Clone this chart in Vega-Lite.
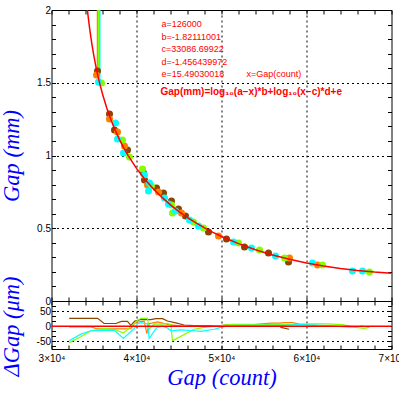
{
  "$schema": "https://vega.github.io/schema/vega-lite/v6.json",
  "padding": {"left": -0.5, "top": 4, "right": 0, "bottom": 0},
  "background": "white",
  "spacing": 0,
  "bounds": "flush",
  "config": {
    "view": {"stroke": "black", "strokeWidth": 1},
    "axis": {
      "labelFont": "Liberation Sans", "labelFontSize": 10, "labelColor": "black", "labelFlush": false,
      "tickColor": "black", "tickSize": -4, "tickWidth": 1, "labelPadding": 5,
      "titleFont": "Liberation Serif", "titleFontStyle": "italic", "titleFontWeight": "normal",
      "titleFontSize": 22.5, "titleColor": "#0000ff",
      "domain": false, "grid": false, "gridColor": "black", "gridDash": [2, 3], "gridWidth": 1
    }
  },
  "datasets": {
    "fit": [
      {"gx": 34200, "mm": 2.0152}, {"gx": 34300, "mm": 1.9617}, {"gx": 34500, "mm": 1.8669},
      {"gx": 34750, "mm": 1.7660}, {"gx": 35000, "mm": 1.6796}, {"gx": 35250, "mm": 1.6041},
      {"gx": 35500, "mm": 1.5371}, {"gx": 35750, "mm": 1.4770}, {"gx": 36000, "mm": 1.4224},
      {"gx": 36500, "mm": 1.3266}, {"gx": 37000, "mm": 1.2446}, {"gx": 37500, "mm": 1.1730},
      {"gx": 38000, "mm": 1.1096}, {"gx": 38500, "mm": 1.0528}, {"gx": 39000, "mm": 1.0014},
      {"gx": 40000, "mm": 0.9117}, {"gx": 41000, "mm": 0.8355}, {"gx": 42000, "mm": 0.7696},
      {"gx": 43000, "mm": 0.7118}, {"gx": 44000, "mm": 0.6606}, {"gx": 45000, "mm": 0.6149},
      {"gx": 46000, "mm": 0.5737}, {"gx": 47000, "mm": 0.5365}, {"gx": 48000, "mm": 0.5027},
      {"gx": 49000, "mm": 0.4718}, {"gx": 50000, "mm": 0.4436}, {"gx": 52000, "mm": 0.3940},
      {"gx": 54000, "mm": 0.3521}, {"gx": 56000, "mm": 0.3166}, {"gx": 58000, "mm": 0.2866},
      {"gx": 60000, "mm": 0.2614}, {"gx": 62000, "mm": 0.2404}, {"gx": 64000, "mm": 0.2232},
      {"gx": 66000, "mm": 0.2094}, {"gx": 68000, "mm": 0.1989}, {"gx": 70000, "mm": 0.1915}
    ],
    "stubs": [
      {"series": "orange", "gx": 35412, "mm": 1.56, "mm2": 2.5},
      {"series": "green", "gx": 35530, "mm": 1.52, "mm2": 2.5},
      {"series": "cyan", "gx": 35680, "mm": 1.50, "mm2": 2.5}
    ],
    "points": [
      {"series": "brown", "gx": 35412, "mm": 1.581},
      {"series": "brown", "gx": 36824, "mm": 1.285},
      {"series": "brown", "gx": 37412, "mm": 1.175},
      {"series": "brown", "gx": 38941, "mm": 1.038},
      {"series": "brown", "gx": 40824, "mm": 0.880},
      {"series": "brown", "gx": 40941, "mm": 0.832},
      {"series": "brown", "gx": 42353, "mm": 0.777},
      {"series": "brown", "gx": 43176, "mm": 0.742},
      {"series": "brown", "gx": 44118, "mm": 0.687},
      {"series": "brown", "gx": 44941, "mm": 0.632},
      {"series": "brown", "gx": 45765, "mm": 0.584},
      {"series": "brown", "gx": 48471, "mm": 0.474},
      {"series": "brown", "gx": 50588, "mm": 0.426},
      {"series": "brown", "gx": 52706, "mm": 0.371},
      {"series": "brown", "gx": 55529, "mm": 0.330},
      {"series": "brown", "gx": 57882, "mm": 0.268},
      {"series": "orange", "gx": 35294, "mm": 1.553},
      {"series": "orange", "gx": 36824, "mm": 1.251},
      {"series": "orange", "gx": 37765, "mm": 1.162},
      {"series": "orange", "gx": 38588, "mm": 1.065},
      {"series": "orange", "gx": 41294, "mm": 0.797},
      {"series": "orange", "gx": 42588, "mm": 0.749},
      {"series": "orange", "gx": 45294, "mm": 0.605},
      {"series": "orange", "gx": 49647, "mm": 0.447},
      {"series": "orange", "gx": 58000, "mm": 0.296},
      {"series": "orange", "gx": 61294, "mm": 0.247},
      {"series": "green", "gx": 35882, "mm": 1.498},
      {"series": "green", "gx": 38353, "mm": 1.107},
      {"series": "green", "gx": 39177, "mm": 0.990},
      {"series": "green", "gx": 40706, "mm": 0.907},
      {"series": "green", "gx": 41765, "mm": 0.790},
      {"series": "green", "gx": 44118, "mm": 0.660},
      {"series": "green", "gx": 44235, "mm": 0.605},
      {"series": "green", "gx": 46706, "mm": 0.543},
      {"series": "green", "gx": 47882, "mm": 0.502},
      {"series": "green", "gx": 52000, "mm": 0.399},
      {"series": "green", "gx": 54471, "mm": 0.351},
      {"series": "green", "gx": 57412, "mm": 0.296},
      {"series": "green", "gx": 61882, "mm": 0.247},
      {"series": "green", "gx": 67412, "mm": 0.199},
      {"series": "cyan", "gx": 35529, "mm": 1.505},
      {"series": "cyan", "gx": 37529, "mm": 1.223},
      {"series": "cyan", "gx": 37765, "mm": 1.113},
      {"series": "cyan", "gx": 38471, "mm": 1.017},
      {"series": "cyan", "gx": 40941, "mm": 0.866},
      {"series": "cyan", "gx": 41530, "mm": 0.811},
      {"series": "cyan", "gx": 41412, "mm": 0.756},
      {"series": "cyan", "gx": 43294, "mm": 0.708},
      {"series": "cyan", "gx": 43765, "mm": 0.667},
      {"series": "cyan", "gx": 44588, "mm": 0.619},
      {"series": "cyan", "gx": 46235, "mm": 0.557},
      {"series": "cyan", "gx": 47294, "mm": 0.515},
      {"series": "cyan", "gx": 51412, "mm": 0.405},
      {"series": "cyan", "gx": 53530, "mm": 0.364},
      {"series": "cyan", "gx": 56353, "mm": 0.309},
      {"series": "cyan", "gx": 60706, "mm": 0.261},
      {"series": "cyan", "gx": 65412, "mm": 0.206},
      {"series": "cyan", "gx": 66588, "mm": 0.206}
    ],
    "resid": [
      {"series": "brown", "gx": 32079, "um": 26}, {"series": "brown", "gx": 35412, "um": 26},
      {"series": "brown", "gx": 36196, "um": 9}, {"series": "brown", "gx": 37569, "um": 9},
      {"series": "brown", "gx": 38235, "um": 16}, {"series": "brown", "gx": 38941, "um": 16},
      {"series": "brown", "gx": 39333, "um": 3}, {"series": "brown", "gx": 39804, "um": 17},
      {"series": "brown", "gx": 40510, "um": 22}, {"series": "brown", "gx": 41686, "um": 22},
      {"series": "brown", "gx": 42275, "um": 25}, {"series": "brown", "gx": 43059, "um": 25},
      {"series": "brown", "gx": 43647, "um": 17}, {"series": "brown", "gx": 44627, "um": 11},
      {"series": "brown", "gx": 45608, "um": 4}, {"series": "brown", "gx": 46784, "um": 2},
      {"series": "brown", "gx": 49922, "um": 2}, {"series": "brown", "gx": 50500, "um": 4},
      {"series": "brown", "gx": 53255, "um": 3}, {"series": "brown", "gx": 54824, "um": 2},
      {"series": "brown", "gx": 55804, "um": 5}, {"series": "brown", "gx": 56784, "um": 5},
      {"series": "brown", "gx": 57000, "um": -4}, {"series": "brown", "gx": 57961, "um": -10},
      {"series": "orange", "gx": 32079, "um": -2}, {"series": "orange", "gx": 34627, "um": -2},
      {"series": "orange", "gx": 35412, "um": -9}, {"series": "orange", "gx": 38941, "um": -9},
      {"series": "orange", "gx": 39333, "um": -8}, {"series": "orange", "gx": 39804, "um": 10},
      {"series": "orange", "gx": 40118, "um": 14}, {"series": "orange", "gx": 40902, "um": 17},
      {"series": "orange", "gx": 41216, "um": -24}, {"series": "orange", "gx": 41490, "um": 8},
      {"series": "orange", "gx": 42078, "um": 12}, {"series": "orange", "gx": 42471, "um": 14},
      {"series": "orange", "gx": 43059, "um": 10}, {"series": "orange", "gx": 43647, "um": 6},
      {"series": "orange", "gx": 45216, "um": 0}, {"series": "orange", "gx": 49137, "um": 0},
      {"series": "orange", "gx": 49922, "um": 1}, {"series": "orange", "gx": 51098, "um": 4},
      {"series": "orange", "gx": 53059, "um": 4}, {"series": "orange", "gx": 55804, "um": 10},
      {"series": "orange", "gx": 56784, "um": 10}, {"series": "orange", "gx": 57373, "um": 12},
      {"series": "orange", "gx": 58353, "um": 12}, {"series": "orange", "gx": 59137, "um": 7},
      {"series": "orange", "gx": 61294, "um": 2},
      {"series": "green", "gx": 32079, "um": -54}, {"series": "green", "gx": 33451, "um": -35},
      {"series": "green", "gx": 34627, "um": -15}, {"series": "green", "gx": 35412, "um": -11},
      {"series": "green", "gx": 36196, "um": -8}, {"series": "green", "gx": 37373, "um": -11},
      {"series": "green", "gx": 38471, "um": -22}, {"series": "green", "gx": 39804, "um": 10},
      {"series": "green", "gx": 40118, "um": 20}, {"series": "green", "gx": 40510, "um": 26},
      {"series": "green", "gx": 41294, "um": 26}, {"series": "green", "gx": 41490, "um": -10},
      {"series": "green", "gx": 42078, "um": 8}, {"series": "green", "gx": 43059, "um": 7},
      {"series": "green", "gx": 43647, "um": 9}, {"series": "green", "gx": 44039, "um": 5},
      {"series": "green", "gx": 44235, "um": -48}, {"series": "green", "gx": 44431, "um": -45},
      {"series": "green", "gx": 46784, "um": -10}, {"series": "green", "gx": 47961, "um": -4},
      {"series": "green", "gx": 49137, "um": 0}, {"series": "green", "gx": 49922, "um": 2},
      {"series": "green", "gx": 51294, "um": 6}, {"series": "green", "gx": 53059, "um": 6},
      {"series": "green", "gx": 54824, "um": 5}, {"series": "green", "gx": 55804, "um": 5},
      {"series": "green", "gx": 57176, "um": 6}, {"series": "green", "gx": 58353, "um": 6},
      {"series": "green", "gx": 60510, "um": 8}, {"series": "green", "gx": 62471, "um": 8},
      {"series": "green", "gx": 64235, "um": 5}, {"series": "green", "gx": 66000, "um": -5},
      {"series": "green", "gx": 66784, "um": -7}, {"series": "green", "gx": 67412, "um": -4},
      {"series": "cyan", "gx": 32079, "um": -48}, {"series": "cyan", "gx": 33451, "um": -26},
      {"series": "cyan", "gx": 34627, "um": -15}, {"series": "cyan", "gx": 37373, "um": -13},
      {"series": "cyan", "gx": 38471, "um": -40}, {"series": "cyan", "gx": 39804, "um": -5},
      {"series": "cyan", "gx": 40118, "um": 8}, {"series": "cyan", "gx": 40510, "um": 12},
      {"series": "cyan", "gx": 41294, "um": 8}, {"series": "cyan", "gx": 41490, "um": -40},
      {"series": "cyan", "gx": 42078, "um": -16}, {"series": "cyan", "gx": 42471, "um": -3},
      {"series": "cyan", "gx": 43059, "um": 0}, {"series": "cyan", "gx": 43647, "um": -6},
      {"series": "cyan", "gx": 44039, "um": -15}, {"series": "cyan", "gx": 45216, "um": -12},
      {"series": "cyan", "gx": 46784, "um": -15}, {"series": "cyan", "gx": 47569, "um": -17},
      {"series": "cyan", "gx": 49137, "um": -10}, {"series": "cyan", "gx": 49530, "um": -7},
      {"series": "cyan", "gx": 49922, "um": -3}, {"series": "cyan", "gx": 51098, "um": 2},
      {"series": "cyan", "gx": 53059, "um": 3}, {"series": "cyan", "gx": 57176, "um": 3},
      {"series": "cyan", "gx": 59137, "um": 5}, {"series": "cyan", "gx": 60902, "um": 4},
      {"series": "cyan", "gx": 62471, "um": 2}, {"series": "cyan", "gx": 65020, "um": -3},
      {"series": "cyan", "gx": 66000, "um": -3}, {"series": "cyan", "gx": 66588, "um": 2}
    ],
    "zero": [{"gx": 30000, "um": 0}, {"gx": 70000, "um": 0}],
    "one": [{}]
  },
  "vconcat": [
    {
      "width": 340,
      "height": 291,
      "resolve": {"axis": {"x": "independent", "y": "independent"}},
      "layer": [
        {
          "data": {"name": "stubs"},
          "mark": {"type": "rule", "strokeWidth": 1.5, "clip": true},
          "encoding": {
            "x": {"field": "gx", "type": "quantitative", "scale": {"domain": [30000, 70000], "nice": false, "zero": false}, "axis": null},
            "y": {"field": "mm", "type": "quantitative", "scale": {"domain": [0, 2], "nice": false}, "axis": null},
            "y2": {"field": "mm2"},
            "color": {"field": "series", "type": "nominal", "scale": {"domain": ["brown", "orange", "green", "cyan"], "range": ["#8b4500", "#ff7f00", "#7fff00", "#00ffff"]}, "legend": null}
          }
        },
        {
          "data": {"name": "points"},
          "mark": {"type": "circle", "size": 50, "opacity": 1, "clip": true},
          "encoding": {
            "x": {"field": "gx", "type": "quantitative", "scale": {"domain": [30000, 70000], "nice": false, "zero": false},
                  "axis": {"orient": "top", "labels": false, "title": null, "values": [30000,32000,34000,36000,38000,40000,42000,44000,46000,48000,50000,52000,54000,56000,58000,60000,62000,64000,66000,68000,70000]}},
            "y": {"field": "mm", "type": "quantitative", "scale": {"domain": [0, 2], "nice": false},
                  "axis": {"orient": "right", "labels": false, "title": null, "values": [0,0.1,0.2,0.3,0.4,0.5,0.6,0.7,0.8,0.9,1,1.1,1.2,1.3,1.4,1.5,1.6,1.7,1.8,1.9,2]}},
            "color": {"field": "series", "type": "nominal", "scale": {"domain": ["brown", "orange", "green", "cyan"], "range": ["#8b4500", "#ff7f00", "#7fff00", "#00ffff"]}, "legend": null}
          }
        },
        {
          "data": {"name": "fit"},
          "mark": {"type": "line", "color": "#ff0000", "strokeWidth": 1.5, "clip": true},
          "encoding": {
            "x": {"field": "gx", "type": "quantitative", "scale": {"domain": [30000, 70000], "nice": false, "zero": false},
                  "axis": {"orient": "bottom", "labels": false, "title": null, "grid": true,
                           "values": [30000,32000,34000,36000,38000,40000,42000,44000,46000,48000,50000,52000,54000,56000,58000,60000,62000,64000,66000,68000,70000],
                           "gridOpacity": {"condition": {"test": "datum.value > 30001 && datum.value < 69999 && datum.value % 10000 == 0", "value": 1}, "value": 0}}},
            "y": {"field": "mm", "type": "quantitative", "scale": {"domain": [0, 2], "nice": false},
                  "axis": {"orient": "left", "title": "Gap (mm)", "titlePadding": 13, "grid": true,
                           "values": [0,0.1,0.2,0.3,0.4,0.5,0.6,0.7,0.8,0.9,1,1.1,1.2,1.3,1.4,1.5,1.6,1.7,1.8,1.9,2],
                           "labelExpr": "abs(datum.value*2 - round(datum.value*2)) < 0.001 ? format(datum.value, '~g') : ''",
                           "gridOpacity": {"condition": {"test": "abs(datum.value*2 - round(datum.value*2)) < 0.001 && datum.value > 0.01 && datum.value < 1.99", "value": 1}, "value": 0}}}
          }
        },
        {
          "data": {"name": "one"},
          "mark": {"type": "text", "align": "left", "baseline": "alphabetic", "font": "Liberation Sans", "fontSize": 9, "fill": "#ff0000", "lineHeight": 12.4,
                   "text": ["a=126000", "b=-1.82111001", "c=33086.69922", "d=-1.456439972", "e=15.49030018"]},
          "encoding": {
            "x": {"datum": 42941, "type": "quantitative", "axis": null},
            "y": {"datum": 1.881, "type": "quantitative", "axis": null}
          }
        },
        {
          "data": {"name": "one"},
          "mark": {"type": "text", "align": "left", "baseline": "alphabetic", "font": "Liberation Sans", "fontSize": 9, "fill": "#ff0000", "text": "x=Gap(count)"},
          "encoding": {
            "x": {"datum": 52941, "type": "quantitative", "axis": null},
            "y": {"datum": 1.5395, "type": "quantitative", "axis": null}
          }
        },
        {
          "data": {"name": "one"},
          "mark": {"type": "text", "align": "left", "baseline": "alphabetic", "font": "Liberation Sans", "fontSize": 10, "fontWeight": "bold", "fill": "#ff0000", "text": "Gap(mm)=log₁₀(a−x)*b+log₁₀(x−c)*d+e"},
          "encoding": {
            "x": {"datum": 42824, "type": "quantitative", "axis": null},
            "y": {"datum": 1.416, "type": "quantitative", "axis": null}
          }
        }
      ]
    },
    {
      "width": 340,
      "height": 48,
      "resolve": {"axis": {"x": "independent", "y": "independent"}},
      "layer": [
        {
          "data": {"name": "resid"},
          "mark": {"type": "line", "strokeWidth": 1.2, "clip": true},
          "encoding": {
            "x": {"field": "gx", "type": "quantitative", "scale": {"domain": [30000, 70000], "nice": false, "zero": false},
                  "axis": {"orient": "bottom", "title": "Gap (count)", "titlePadding": 3, "labelPadding": 8, "grid": true,
                           "values": [30000,32000,34000,36000,38000,40000,42000,44000,46000,48000,50000,52000,54000,56000,58000,60000,62000,64000,66000,68000,70000],
                           "labelExpr": "datum.value % 10000 == 0 ? format(datum.value/10000, 'd') + '×10⁴' : ''",
                           "gridOpacity": {"condition": {"test": "datum.value > 30001 && datum.value < 69999 && datum.value % 10000 == 0", "value": 1}, "value": 0}}},
            "y": {"field": "um", "type": "quantitative", "scale": {"domain": [-75, 83], "nice": false, "zero": false},
                  "axis": {"orient": "left", "title": "ΔGap (μm)", "titlePadding": 13, "titleY": 25, "grid": true,
                           "values": [-66.67, -50, -33.33, -16.67, 0, 16.67, 33.33, 50, 66.67],
                           "labelExpr": "datum.value == 0 || datum.value == 50 || datum.value == -50 ? '' + datum.value : ''",
                           "gridOpacity": {"condition": {"test": "datum.value == 50 || datum.value == -50", "value": 1}, "value": 0}}},
            "color": {"field": "series", "type": "nominal", "scale": {"domain": ["brown", "orange", "green", "cyan"], "range": ["#8b4500", "#ff7f00", "#7fff00", "#00ffff"]}, "legend": null}
          }
        },
        {
          "data": {"name": "zero"},
          "mark": {"type": "line", "color": "#ff0000", "strokeWidth": 1.5, "clip": true},
          "encoding": {
            "x": {"field": "gx", "type": "quantitative", "scale": {"domain": [30000, 70000], "nice": false, "zero": false},
                  "axis": {"orient": "top", "labels": false, "title": null,
                           "values": [30000,32000,34000,36000,38000,40000,42000,44000,46000,48000,50000,52000,54000,56000,58000,60000,62000,64000,66000,68000,70000]}},
            "y": {"field": "um", "type": "quantitative", "scale": {"domain": [-75, 83], "nice": false, "zero": false},
                  "axis": {"orient": "right", "labels": false, "title": null,
                           "values": [-66.67, -50, -33.33, -16.67, 0, 16.67, 33.33, 50, 66.67]}}
          }
        }
      ]
    }
  ]
}
